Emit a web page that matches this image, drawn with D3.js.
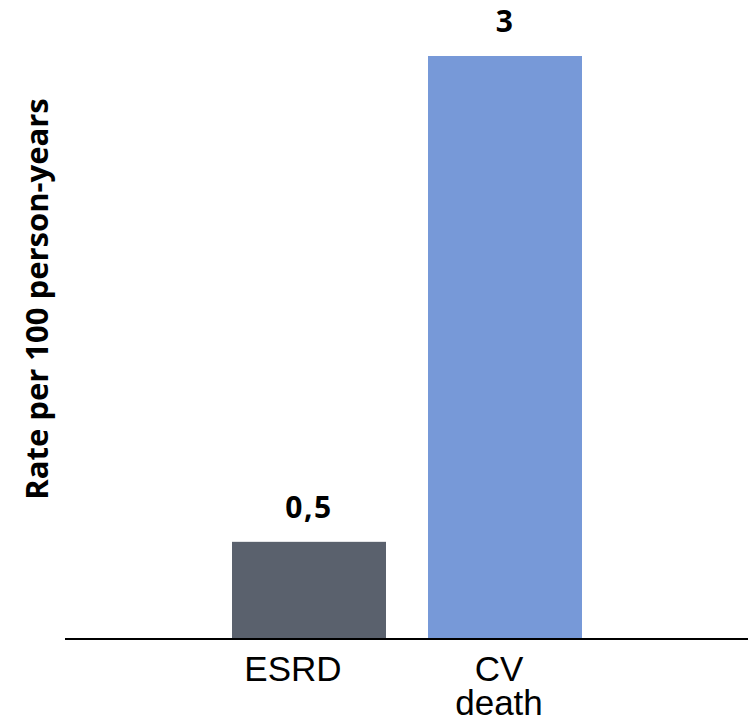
<!DOCTYPE html>
<html><head><meta charset="utf-8">
<script src="https://cdn.jsdelivr.net/npm/d3@7"></script>
<style>body{margin:0;background:#fff}</style>
</head><body>
<svg id="c" width="748" height="721"></svg>
<script>
const categories = ["ESRD", "CV death"];
const values = [0.5, 3];
const valueLabels = ["0,5", "3"];
const colors = ["#5a616d", "#7799d8"];
const yTitle = "Rate per 100 person-years";

const svg = d3.select("#c");
const baseY = 639;
const x = d3.scaleBand().domain(categories).range([232, 582]).paddingInner(0.2143).paddingOuter(0);
const y = d3.scaleLinear().domain([0, 3]).range([baseY, 56]);

svg.selectAll("rect.bar").data(values).join("rect")
  .attr("class", "bar")
  .attr("x", (d, i) => x(categories[i]))
  .attr("width", x.bandwidth())
  .attr("y", d => y(d))
  .attr("height", d => baseY - y(d))
  .attr("fill", (d, i) => colors[i]);

svg.selectAll("text.val").data(values).join("text")
  .attr("class", "val")
  .attr("x", (d, i) => x(categories[i]) + x.bandwidth() / 2)
  .attr("y", d => y(d) - 24)
  .attr("text-anchor", "middle")
  .attr("font-family", "'Open Sans', sans-serif")
  .attr("font-weight", "bold")
  .attr("font-size", 30)
  .attr("letter-spacing", 1.5)
  .attr("fill", "#000")
  .text((d, i) => valueLabels[i]);

svg.append("line").attr("x1", 65).attr("x2", 748).attr("y1", baseY).attr("y2", baseY)
  .attr("stroke", "#000").attr("stroke-width", 2);

const dxs = [-16, -6];
categories.forEach((c, i) => {
  c.split(" ").forEach((w, j) => {
    svg.append("text")
      .attr("x", x(c) + x.bandwidth() / 2 + dxs[i])
      .attr("y", 681 + j * 34)
      .attr("text-anchor", "middle")
      .attr("font-family", "Liberation Sans, Arial, sans-serif")
      .attr("font-size", 35)
      .attr("fill", "#000")
      .text(w);
  });
});

svg.append("text")
  .attr("transform", "translate(48,299) rotate(-90)")
  .attr("text-anchor", "middle")
  .attr("font-family", "'Open Sans', sans-serif")
  .attr("font-weight", "bold")
  .attr("font-size", 31)
  .attr("fill", "#000")
  .text(yTitle);
</script>
</body></html>
